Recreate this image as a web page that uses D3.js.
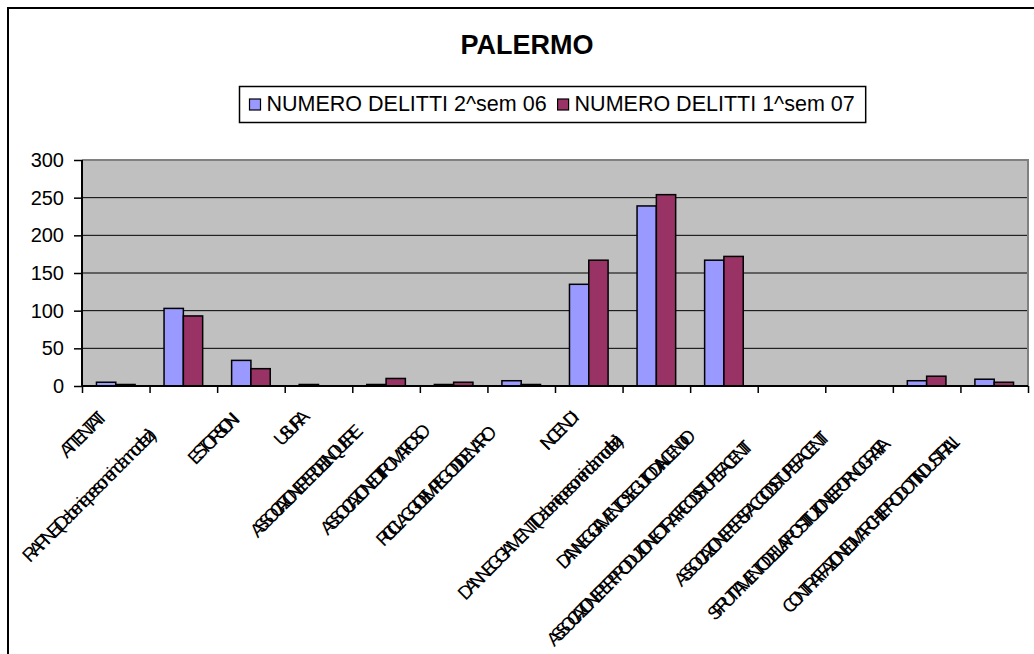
<!DOCTYPE html>
<html><head><meta charset="utf-8">
<script src="https://cdn.jsdelivr.net/npm/d3@7"></script>
<style>
body{margin:0;background:#fff;}
svg{display:block;}
text{font-family:"Liberation Sans", Arial, sans-serif;fill:#000;}
</style>
</head><body>
<svg id="c" width="1034" height="654"></svg>
<script>
const title = "PALERMO";
const categories = [
  "ATTENTATI",
  "RAPINE (Da beni e persone in danno di terzi)",
  "ESTORSIONI",
  "USURA",
  "ASSOCIAZIONE PER DELINQUERE",
  "ASSOCIAZIONE DI TIPO MAFIOSO",
  "RICICLAGGIO E IMPIEGO DI DENARO",
  "INCENDI",
  "DANNEGGIAMENTI (Da beni e persone in danno di terzi)",
  "DANNEGGIAMENTO SEGUITO DA INCENDIO",
  "ASSOCIAZIONE PER PRODUZIONE O TRAFFICO DI STUPEFACENTI",
  "ASSOCIAZIONE PER SPACCIO DI STUPEFACENTI",
  "SFRUTTAMENTO DELLA PROSTITUZIONE E PORNOGRAFIA",
  "CONTRAFFAZIONE DI MARCHI E PRODOTTI INDUSTRIALI"
];
const seriesNames = ["NUMERO DELITTI 2^sem 06", "NUMERO DELITTI 1^sem 07"];
const sem2_06 = [5, 103, 34, 2, 2, 2, 7, 135, 239, 167, 0, 0, 7, 9];
const sem1_07 = [2, 93, 23, 0, 10, 5, 2, 167, 254, 172, 0, 0, 13, 5];
const yTicks = [0, 50, 100, 150, 200, 250, 300];
const colors = ["#9999FF", "#993366"];

const svg = d3.select("#c");
const P = {left: 82, right: 1028, top: 160, bottom: 386};

// outer chart frame
svg.append("rect").attr("x", 8).attr("y", 8).attr("width", 1100).attr("height", 700)
  .attr("fill", "#fff").attr("stroke", "#000").attr("stroke-width", 2);

const x = d3.scaleBand().domain(d3.range(categories.length)).range([P.left, P.right]).padding(0);
const xb = d3.scaleLinear().domain([0, categories.length]).range([P.left, P.right]);
const xi = d3.scaleBand().domain([0, 1]).range([0, x.bandwidth()]).paddingInner(0).paddingOuter(0.75);
const y = d3.scaleLinear().domain([0, 300]).range([P.bottom, P.top]);

// plot area
svg.append("rect").attr("x", P.left).attr("y", P.top)
  .attr("width", P.right - P.left).attr("height", P.bottom - P.top)
  .attr("fill", "#C0C0C0");
// grid
svg.append("g").selectAll("line").data(yTicks.filter(t => t > 0 && t < 300)).join("line")
  .attr("x1", P.left).attr("x2", P.right).attr("y1", d => y(d)).attr("y2", d => y(d))
  .attr("stroke", "#000").attr("stroke-width", 1);
// gray border top/right
svg.append("path").attr("d", `M${P.left},${P.top}H${P.right}V${P.bottom}`)
  .attr("fill", "none").attr("stroke", "#808080").attr("stroke-width", 2);

// bars
const series = [sem2_06, sem1_07];
series.forEach((vals, si) => {
  svg.append("g").selectAll("rect").data(vals).join("rect")
    .attr("x", (d, i) => x(i) + xi(si))
    .attr("width", xi.bandwidth())
    .attr("y", d => y(d))
    .attr("height", d => y(0) - y(d))
    .attr("fill", colors[si])
    .attr("stroke", "#000").attr("stroke-width", 1.5)
    .style("display", d => d > 0 ? null : "none");
});

// y axis
const ya = svg.append("g").attr("transform", `translate(${P.left},0)`)
  .call(d3.axisLeft(y).tickValues(yTicks).tickSize(8).tickPadding(10));
ya.select(".domain").attr("stroke", "#000").attr("stroke-width", 2).attr("d", `M0,${P.top}V${P.bottom}`);
ya.selectAll(".tick line").attr("stroke", "#000").attr("stroke-width", 1.5);
ya.selectAll(".tick text").style("font-size", "20px").attr("font-family", "Liberation Sans, Arial, sans-serif").attr("fill", "#000");

// x axis
const xa = svg.append("g").attr("transform", `translate(0,${P.bottom})`)
  .call(d3.axisBottom(xb).tickValues(d3.range(categories.length + 1)).tickSize(7).tickFormat(""));
xa.select(".domain").attr("stroke", "#000").attr("stroke-width", 2).attr("d", `M${P.left},0H${P.right}`);
xa.selectAll(".tick line").attr("stroke", "#000").attr("stroke-width", 1.5);

// category labels: rotated, with tightly overlapping letters like the original rendering
const labG = svg.append("g");
const labFont = 19;
categories.forEach((c, i) => {
  const cx = x(i) + x.bandwidth() / 2;
  const g = labG.append("g").attr("transform", `translate(${cx},410) rotate(-45)`);
  const t = g.append("text").text(c).style("font-size", labFont + "px");
  const nat = t.node().getComputedTextLength() * 18 / labFont;
  const L = 0.462 * nat + 12.4;
  const endX = -2.9 - 0.187 * L;
  t.attr("x", endX - L).attr("y", 0).attr("textLength", L).attr("lengthAdjust", "spacing");
});

// title
svg.append("text").attr("x", 527).attr("y", 54).attr("text-anchor", "middle")
  .style("font-size", "27px").style("font-weight", "bold").text(title);

// legend
const lg = svg.append("g");
const box = lg.append("rect").attr("x", 239.5).attr("y", 86.5).attr("height", 36)
  .attr("fill", "#fff").attr("stroke", "#000").attr("stroke-width", 1.5);
let cur = 249.5;
seriesNames.forEach((n, i) => {
  lg.append("rect").attr("x", cur).attr("y", 99).attr("width", 11).attr("height", 11)
    .attr("fill", colors[i]).attr("stroke", "#000").attr("stroke-width", 1.2);
  const t = lg.append("text").attr("x", cur + 17).attr("y", 110.5).style("font-size", "21.5px").text(n);
  cur = cur + 17 + t.node().getComputedTextLength() + 11;
});
box.attr("width", cur - 11 + 11 - 239.5);
</script>
</body></html>
